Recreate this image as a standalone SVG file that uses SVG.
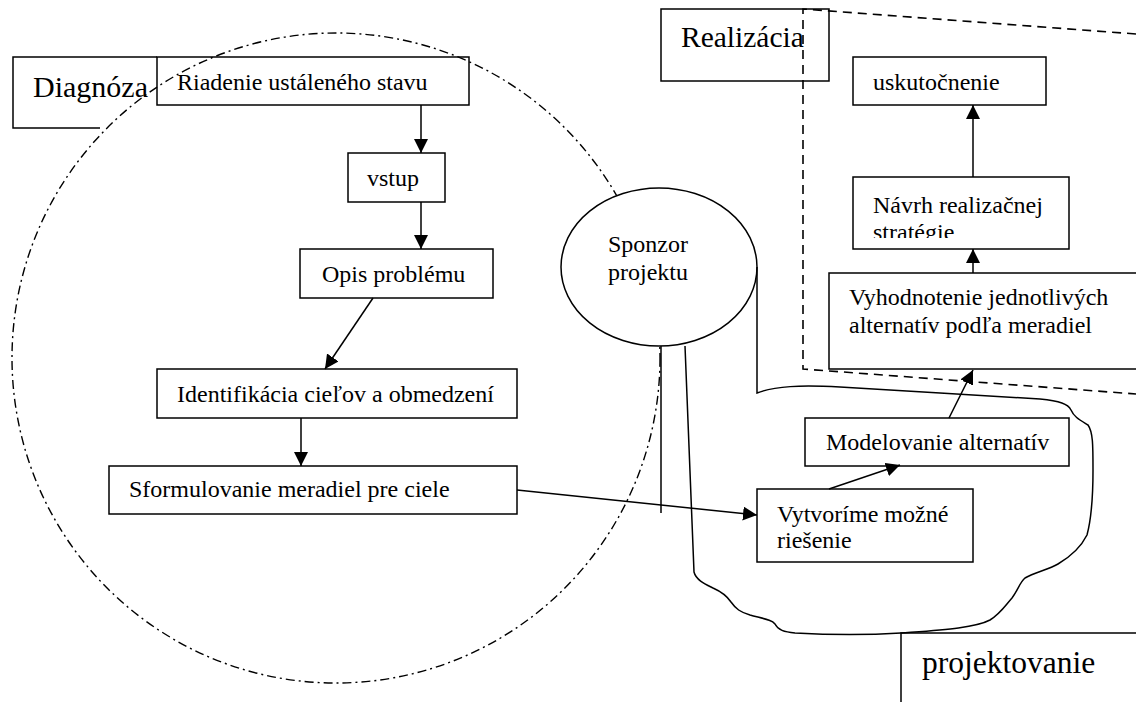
<svg xmlns="http://www.w3.org/2000/svg" width="1136" height="702" viewBox="0 0 1136 702">
  <style>
    .box { fill: none; stroke: #000; stroke-width: 1.5; }
    .solid { fill: #fff; stroke: #000; stroke-width: 1.5; }
    .edge { fill: none; stroke: #000; stroke-width: 1.5; }
    .arrow { fill: none; stroke: #000; stroke-width: 1.5; marker-end: url(#head); }
    .txt { font-family: "Liberation Serif", "Times New Roman", serif; font-size: 24px; fill: #000; }
    .big { font-family: "Liberation Serif", "Times New Roman", serif; font-size: 30px; fill: #000; }
    .dashdot { fill: none; stroke: #000; stroke-width: 1.4; stroke-dasharray: 9 4 2 4; }
    .dashed { fill: none; stroke: #000; stroke-width: 1.6; stroke-dasharray: 9 6; }
  </style>
  <defs>
    <marker id="head" markerUnits="userSpaceOnUse" markerWidth="14" markerHeight="14" refX="14" refY="7" orient="auto">
      <path d="M0,0 L14,7 L0,14 Z" fill="#000"/>
    </marker>
    <clipPath id="clipNavrh">
      <rect x="853" y="177" width="216" height="61"/>
    </clipPath>
  </defs>
  <rect width="1136" height="702" fill="#fff"/>

  <!-- region outlines -->
  <g id="regions">
    <ellipse id="diagnosis-area" class="dashdot" cx="336" cy="358" rx="324" ry="325"/>
    <path id="realization-area" class="dashed" d="M1136,34 L803,9 L803,369 L1136,394"/>
  </g>

  <g id="label-diagnoza">
    <path class="edge" d="M157,57 H13 V128 H100"/>
    <text class="big" x="33" y="97">Diagnóza</text>
  </g>

  <g id="label-realizacia">
    <rect class="box" x="661" y="9" width="168" height="72"/>
    <text class="big" x="681" y="47" style="font-size:29.5px">Realizácia</text>
  </g>

  <g id="label-projektovanie">
    <path class="edge" d="M1136,633 H901 V702"/>
    <text class="big" x="922" y="673" style="font-size:31.5px">projektovanie</text>
  </g>

  <g id="n-riadenie">
    <rect class="box" x="157" y="57" width="312" height="48"/>
    <text class="txt" x="177" y="90">Riadenie ustáleného stavu</text>
  </g>

  <g id="n-vstup">
    <rect class="box" x="348" y="153" width="97" height="49"/>
    <text class="txt" x="367" y="186">vstup</text>
  </g>

  <g id="n-opis">
    <rect class="box" x="300" y="249" width="193" height="49"/>
    <text class="txt" x="322" y="282">Opis problému</text>
  </g>

  <g id="n-identifikacia">
    <rect class="box" x="157" y="369" width="360" height="49"/>
    <text class="txt" x="177" y="402">Identifikácia cieľov a obmedzení</text>
  </g>

  <g id="n-sformulovanie">
    <rect class="box" x="109" y="466" width="408" height="48"/>
    <text class="txt" x="129" y="497">Sformulovanie meradiel pre ciele</text>
  </g>

  <g id="n-sponzor">
    <ellipse class="solid" cx="659" cy="267" rx="98" ry="79"/>
    <text class="txt" x="608" y="252">Sponzor</text>
    <text class="txt" x="608" y="280">projektu</text>
  </g>

  <g id="n-vytvorime">
    <rect class="box" x="757" y="489" width="216" height="73"/>
    <text class="txt" x="777" y="522">Vytvoríme možné</text>
    <text class="txt" x="777" y="548">riešenie</text>
  </g>

  <g id="n-modelovanie">
    <rect class="box" x="805" y="418" width="264" height="48"/>
    <text class="txt" x="826" y="450">Modelovanie alternatív</text>
  </g>

  <g id="n-vyhodnotenie">
    <rect class="box" x="829" y="273" width="320" height="96"/>
    <text class="txt" x="849" y="305">Vyhodnotenie jednotlivých</text>
    <text class="txt" x="849" y="333">alternatív podľa meradiel</text>
  </g>

  <g id="n-navrh">
    <rect class="box" x="853" y="177" width="216" height="72"/>
    <g clip-path="url(#clipNavrh)">
      <text class="txt" x="873" y="213">Návrh realizačnej</text>
      <text class="txt" x="873" y="240">stratégie</text>
    </g>
  </g>

  <g id="n-uskutocnenie">
    <rect class="box" x="853" y="57" width="193" height="48"/>
    <text class="txt" x="873" y="90">uskutočnenie</text>
  </g>

  <!-- connectors -->
  <g id="connectors">
    <line class="arrow" x1="421" y1="105" x2="421" y2="153"/>
    <line class="arrow" x1="421" y1="202" x2="421" y2="249"/>
    <line class="arrow" x1="373" y1="298" x2="325" y2="369"/>
    <line class="arrow" x1="301" y1="418" x2="301" y2="466"/>
    <line class="arrow" x1="517" y1="490" x2="757" y2="515"/>
    <line class="arrow" x1="829" y1="489" x2="900" y2="465"/>
    <line class="arrow" x1="949" y1="418" x2="973" y2="370"/>
    <line class="arrow" x1="973" y1="273" x2="973" y2="249"/>
    <line class="arrow" x1="973" y1="177" x2="973" y2="105"/>
    <!-- sponsor stem and the project-design outline around it -->
    <line class="edge" x1="661" y1="346" x2="661" y2="513"/>
    <path class="edge" d="M685,346 L694,572 C696,580 705,584 713,588 C722,592 727,596 731,602 C736,609 740,612 750,615 C765,619 772,620 775,624 C778,630 784,632 795,633 C830,635 870,635 901,633 C940,630 975,628 990,620 C1000,614 1005,606 1012,598 C1018,590 1020,582 1025,578 C1035,572 1048,570 1058,564 C1075,554 1082,545 1087,535 C1091,520 1093,500 1093,470 C1093,445 1093,432 1088,425 C1080,420 1074,417 1071,410 C1068,404 1060,401 1040,399 C980,396 900,390 840,387 C800,385 775,386 757,393 L757,267"/>
  </g>
</svg>
